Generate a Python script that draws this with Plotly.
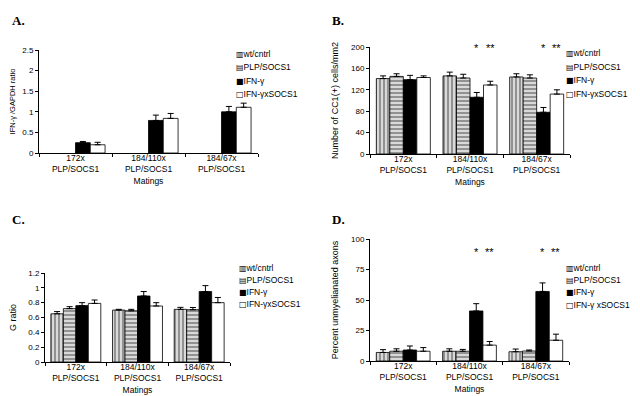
import plotly.graph_objects as go

categories = ["172x<br>PLP/SOCS1", "184/110x<br>PLP/SOCS1", "184/67x<br>PLP/SOCS1"]
series_names = ["wt/cntrl", "PLP/SOCS1", "IFN-γ", "IFN-γxSOCS1"]
series_names_d = ["wt/cntrl", "PLP/SOCS1", "IFN-γ", "IFN-γ xSOCS1"]
legend_glyphs = ["▥", "▤", "■", "□"]

# Panel A: IFN-γ/GAPDH ratio
a_wt = [None, None, None]
a_plp = [None, None, None]
a_ifn = [0.25, 0.79, 1.00]
a_x = [0.20, 0.84, 1.11]
a_wt_err = [0, 0, 0]
a_plp_err = [0, 0, 0]
a_ifn_err = [0.03, 0.13, 0.13]
a_x_err = [0.06, 0.12, 0.10]

# Panel B: Number of CC1(+) cells/mm2
b_wt = [141, 146, 144]
b_plp = [145, 142, 142]
b_ifn = [139, 106, 78]
b_x = [143, 129, 112]
b_wt_err = [5, 7, 6]
b_plp_err = [5, 7, 6]
b_ifn_err = [8, 9, 9]
b_x_err = [3, 7, 8]

# Panel C: G ratio
c_wt = [0.65, 0.70, 0.71]
c_plp = [0.72, 0.69, 0.705]
c_ifn = [0.76, 0.89, 0.95]
c_x = [0.79, 0.755, 0.80]
c_wt_err = [0.03, 0.01, 0.027]
c_plp_err = [0.026, 0.02, 0.03]
c_ifn_err = [0.04, 0.06, 0.08]
c_x_err = [0.046, 0.045, 0.07]

# Panel D: Percent unmyelinated axons
d_wt = [7, 8, 7.6]
d_plp = [8, 8, 8.2]
d_ifn = [9, 41, 57]
d_x = [8, 13, 17]
d_wt_err = [2.3, 2, 2.2]
d_plp_err = [2, 1.5, 0.8]
d_ifn_err = [3.3, 6, 7]
d_x_err = [3, 3, 5]

panels = [
    dict(key="", vals=[a_wt, a_plp, a_ifn, a_x], errs=[a_wt_err, a_plp_err, a_ifn_err, a_x_err],
         names=series_names, title="IFN-γ /GAPDH ratio", tsize=7.5, tstand=13, rng=[0, 2.5], dtick=0.5,
         xd=[31/640, 250/640], yd=[1-145/396, 1-42/396], leg=(226, 46, 13.3), label="A.", lab=(2, 3), stars=False),
    dict(key="2", vals=[b_wt, b_plp, b_ifn, b_x], errs=[b_wt_err, b_plp_err, b_ifn_err, b_x_err],
         names=series_names, title="Number of CC1(+) cells/mm2", tsize=9, tstand=10, rng=[0, 200], dtick=40,
         xd=[362/640, 562/640], yd=[1-146/396, 1-39/396], leg=(556, 45, 13.7), label="B.", lab=(322, 3), stars=True, sy=198),
    dict(key="3", vals=[c_wt, c_plp, c_ifn, c_x], errs=[c_wt_err, c_plp_err, c_ifn_err, c_x_err],
         names=series_names, title="G ratio", tsize=9, tstand=22, rng=[0, 1.2], dtick=0.2,
         xd=[37/640, 222/640], yd=[1-354/396, 1-265/396], leg=(229, 260, 12), label="C.", lab=(2, 202), stars=True, sy=1.48),
    dict(key="4", vals=[d_wt, d_plp, d_ifn, d_x], errs=[d_wt_err, d_plp_err, d_ifn_err, d_x_err],
         names=series_names_d, title="Percent unmyelianated axons", tsize=9, tstand=10, rng=[0, 100], dtick=25,
         xd=[362/640, 561/640], yd=[1-353/396, 1-231/396], leg=(556, 260, 12.2), label="D.", lab=(322, 202), stars=True, sy=89.5),
]

styles = [
    dict(color="#cfcfcf", pattern=dict(shape="|", fgcolor="#3c3c3c", bgcolor="#d9d9d9", size=4, solidity=0.45)),
    dict(color="#cfcfcf", pattern=dict(shape="-", fgcolor="#3c3c3c", bgcolor="#d9d9d9", size=4, solidity=0.45)),
    dict(color="#000000"),
    dict(color="#ffffff"),
]

FONT = "Liberation Sans, Arial, sans-serif"
fig = go.Figure()
layout = dict(width=640, height=396, margin=dict(l=0, r=0, t=0, b=0),
              paper_bgcolor="white", plot_bgcolor="white", barmode="group", bargap=0.19,
              font=dict(family=FONT, size=8, color="black"), annotations=[], showlegend=False)

for p in panels:
    k = p["key"]
    for i in range(4):
        st = styles[i]
        marker = dict(color=st["color"], line=dict(color="black", width=0.8))
        if "pattern" in st:
            marker["pattern"] = st["pattern"]
        fig.add_trace(go.Bar(
            x=categories, y=p["vals"][i], name=p["names"][i],
            xaxis="x" + k, yaxis="y" + k, showlegend=False,
            marker=marker,
            error_y=dict(type="data", array=p["errs"][i], arrayminus=[0, 0, 0], symmetric=False,
                         color="black", thickness=1, width=3),
        ))
    layout["xaxis" + k] = dict(domain=p["xd"], anchor="y" + k, type="category", automargin=False,
                               showline=True, linecolor="black", linewidth=1,
                               ticks="outside", tickson="boundaries", ticklen=3, tickcolor="black",
                               ticklabelstandoff=-3,
                               title=dict(text="Matings", font=dict(size=8.5), standoff=4),
                               tickfont=dict(size=8.5), showgrid=False)
    layout["yaxis" + k] = dict(domain=p["yd"], anchor="x" + k, range=p["rng"], dtick=p["dtick"],
                               automargin=False,
                               showline=True, linecolor="black", linewidth=1,
                               ticks="outside", ticklen=3, tickcolor="black", showgrid=False,
                               zeroline=False, tickfont=dict(size=8),
                               title=dict(text=p["title"], font=dict(size=p["tsize"]), standoff=p["tstand"]))
    # legend drawn as text lines
    lx, ly, lsp = p["leg"]
    for j, (g, n) in enumerate(zip(legend_glyphs, p["names"])):
        layout["annotations"].append(dict(
            text='<span style="font-family:DejaVu Sans;font-size:8px">' + g + '</span>' + n,
            x=lx/640, y=1-(ly + j*lsp)/396, xref="paper", yref="paper",
            xanchor="left", yanchor="middle", align="left", showarrow=False,
            font=dict(size=8.5, color="black")))
    layout["annotations"].append(dict(text="<b>" + p["label"] + "</b>", x=p["lab"][0]/640, y=1-p["lab"][1]/396,
                                      xref="paper", yref="paper", xanchor="left", yanchor="top",
                                      showarrow=False, font=dict(family="Liberation Serif, Times New Roman, serif", size=13)))
    if p["stars"]:
        for ci in [1, 2]:
            for off, txt in [(0.1, "*"), (0.3, "**")]:
                layout["annotations"].append(dict(text=txt, x=ci + off, y=p["sy"], xref="x" + k, yref="y" + k,
                                                  showarrow=False, font=dict(size=11, color="black"), yanchor="middle"))

fig.update_layout(**layout)
fig.write_html("out.html")
